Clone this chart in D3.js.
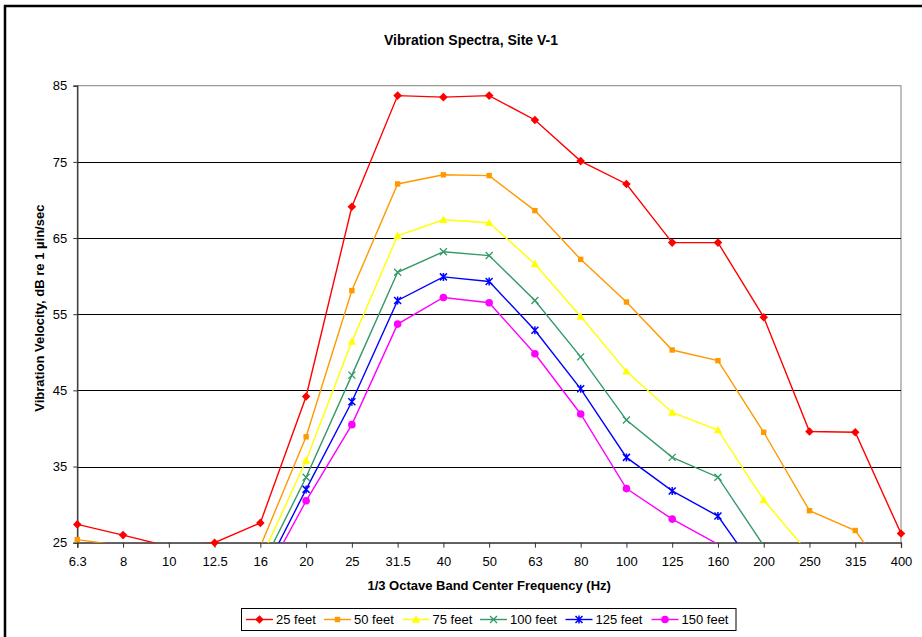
<!DOCTYPE html>
<html>
<head>
<meta charset="utf-8">
<script src="https://cdn.jsdelivr.net/npm/d3@7/dist/d3.min.js"></script>
<style>
  html, body { margin: 0; padding: 0; background: #fff; }
  svg { display: block; font-family: "Liberation Sans", Arial, sans-serif; }
</style>
</head>
<body>
<svg id="chart" width="922" height="637"></svg>
<script>
// 1/3-octave band centre frequencies (Hz)
const bands = ["6.3", "8", "10", "12.5", "16", "20", "25", "31.5", "40", "50", "63",
               "80", "100", "125", "160", "200", "250", "315", "400"];

// Vibration velocity levels, dB re 1 µin/sec (null = below the plotted range)
const feet25  = [27.4, 26.0, 24.5, 25.0, 27.6, 44.2, 69.1, 83.7, 83.5, 83.7, 80.5, 75.1, 72.1, 64.4, 64.4, 54.6, 39.6, 39.5, 26.2];
const feet50  = [25.4, 24.6, null, null, 24.5, 38.9, 58.1, 72.1, 73.3, 73.2, 68.6, 62.2, 56.6, 50.3, 48.9, 39.5, 29.2, 26.6, 18.2];
const feet75  = [null, null, null, null, 22.7, 35.8, 51.4, 65.3, 67.4, 67.0, 61.6, 54.7, 47.5, 42.1, 39.8, 30.6, 23.5, null, null];
const feet100 = [null, null, null, null, 21.5, 33.6, 47.0, 60.5, 63.2, 62.7, 56.8, 49.4, 41.1, 36.2, 33.6, 24.6, null, null, null];
const feet125 = [null, null, null, null, 20.2, 32.0, 43.5, 56.8, 59.9, 59.3, 52.9, 45.2, 36.2, 31.8, 28.5, 20.0, null, null, null];
const feet150 = [null, null, null, null, 19.4, 30.5, 40.5, 53.7, 57.2, 56.5, 49.8, 41.9, 32.1, 28.1, 24.8, null, null, null, null];

const yTicks = [25, 35, 45, 55, 65, 75, 85];

const seriesNames = ["25 feet", "50 feet", "75 feet", "100 feet", "125 feet", "150 feet"];
const seriesColors = ["#FF0000", "#FF9900", "#FFFF00", "#339966", "#0000FF", "#FF00FF"];
const seriesMarkers = ["diamond", "square", "triangle", "x", "star", "circle"];
const seriesValues = [feet25, feet50, feet75, feet100, feet125, feet150];

const svg = d3.select("#chart");

// outer chart frame
svg.append("path")
  .attr("d", "M5,640 L5,6 L925,6")
  .attr("fill", "none").attr("stroke", "#000").attr("stroke-width", 2.5);

const plot = { left: 77.3, right: 901, top: 85.7, bottom: 542.7 };

const x = d3.scalePoint().domain(bands).range([plot.left, plot.right]).padding(0);
const y = d3.scaleLinear().domain([25, 85]).range([plot.bottom, plot.top]);

// title
svg.append("text")
  .attr("x", 471).attr("y", 45)
  .attr("text-anchor", "middle")
  .attr("font-size", 14).attr("font-weight", "bold")
  .text("Vibration Spectra, Site V-1");

// plot area border (gray)
svg.append("rect")
  .attr("x", plot.left).attr("y", plot.top)
  .attr("width", plot.right - plot.left).attr("height", plot.bottom - plot.top)
  .attr("fill", "none").attr("stroke", "#808080").attr("stroke-width", 1);

// horizontal gridlines
svg.append("g")
  .selectAll("line")
  .data(yTicks.filter(t => t > 25 && t < 85))
  .join("line")
  .attr("x1", plot.left).attr("x2", plot.right)
  .attr("y1", d => Math.round(y(d)) + 0.5).attr("y2", d => Math.round(y(d)) + 0.5)
  .attr("stroke", "#000").attr("stroke-width", 1);

// y axis
const yAxis = svg.append("g")
  .attr("transform", `translate(${plot.left},0)`)
  .call(d3.axisLeft(y).tickValues(yTicks).tickSize(4).tickPadding(6).tickFormat(d3.format("d")));
yAxis.select(".domain").attr("stroke", "#333").attr("stroke-width", 1.3);
yAxis.selectAll(".tick line").attr("stroke", "#333");
yAxis.selectAll("text").attr("font-size", 13).attr("fill", "#000")
  .attr("font-family", "Liberation Sans, Arial, sans-serif");

// x axis
const xAxis = svg.append("g")
  .attr("transform", `translate(0,${plot.bottom})`)
  .call(d3.axisBottom(x).tickSize(5).tickPadding(9));
xAxis.select(".domain").attr("stroke", "#333").attr("stroke-width", 1.3);
xAxis.selectAll(".tick line").attr("stroke", "#333");
xAxis.selectAll("text").attr("font-size", 13).attr("fill", "#000")
  .attr("font-family", "Liberation Sans, Arial, sans-serif");

// axis titles
svg.append("text")
  .attr("x", (plot.left + plot.right) / 2).attr("y", 590)
  .attr("text-anchor", "middle")
  .attr("font-size", 13).attr("font-weight", "bold")
  .text("1/3 Octave Band Center Frequency (Hz)");

svg.append("text")
  .attr("transform", `translate(44,${(plot.top + plot.bottom) / 2 - 6}) rotate(-90)`)
  .attr("text-anchor", "middle")
  .attr("font-size", 13).attr("font-weight", "bold")
  .text("Vibration Velocity, dB re 1 µin/sec");

// clip lines to the plot area
svg.append("defs").append("clipPath").attr("id", "plotClip")
  .append("rect")
  .attr("x", plot.left).attr("y", plot.top)
  .attr("width", plot.right - plot.left).attr("height", plot.bottom - plot.top);

function drawMarker(g, kind, color, cx, cy) {
  const m = g.append("g").attr("transform", `translate(${cx},${cy})`);
  if (kind === "diamond") {
    m.append("path").attr("d", "M0,-4.3 L4.3,0 L0,4.3 L-4.3,0 Z").attr("fill", color);
  } else if (kind === "square") {
    m.append("rect").attr("x", -2.7).attr("y", -2.7).attr("width", 5.4).attr("height", 5.4).attr("fill", color);
  } else if (kind === "triangle") {
    m.append("path").attr("d", "M0,-4.2 L4.2,3.2 L-4.2,3.2 Z").attr("fill", color);
  } else if (kind === "x") {
    m.append("path").attr("d", "M-3.5,-3.5 L3.5,3.5 M-3.5,3.5 L3.5,-3.5")
      .attr("stroke", color).attr("stroke-width", 1.3).attr("fill", "none");
  } else if (kind === "star") {
    m.append("path").attr("d", "M-3.5,-3.5 L3.5,3.5 M-3.5,3.5 L3.5,-3.5 M0,-4 L0,4")
      .attr("stroke", color).attr("stroke-width", 1.5).attr("fill", "none");
  } else if (kind === "circle") {
    m.append("circle").attr("r", 3.8).attr("fill", color);
  }
}

const line = d3.line()
  .defined(d => d.v !== null)
  .x(d => x(d.band))
  .y(d => y(d.v));

seriesValues.forEach((vals, i) => {
  const pts = bands.map((b, j) => ({ band: b, v: vals[j] }));
  svg.append("path")
    .datum(pts)
    .attr("clip-path", "url(#plotClip)")
    .attr("fill", "none")
    .attr("stroke", seriesColors[i])
    .attr("stroke-width", 1.4)
    .attr("d", line);
  const mg = svg.append("g");
  pts.filter(p => p.v !== null && p.v >= 25).forEach(p => {
    drawMarker(mg, seriesMarkers[i], seriesColors[i], x(p.band), y(p.v));
  });
});

// legend
const legend = svg.append("g");
legend.append("rect")
  .attr("x", 241.5).attr("y", 608.5).attr("width", 494.5).attr("height", 22)
  .attr("fill", "#fff").attr("stroke", "#000").attr("stroke-width", 1);

const legendX = [246, 324, 402.5, 480, 565.5, 651.5];
seriesNames.forEach((name, i) => {
  const lx = legendX[i];
  const ly = 619.5;
  legend.append("line")
    .attr("x1", lx).attr("x2", lx + 27)
    .attr("y1", ly).attr("y2", ly)
    .attr("stroke", seriesColors[i]).attr("stroke-width", 1.4);
  drawMarker(legend, seriesMarkers[i], seriesColors[i], lx + 13.5, ly);
  legend.append("text")
    .attr("x", lx + 30).attr("y", ly + 4.5)
    .attr("font-size", 13)
    .text(name);
});
</script>
</body>
</html>
